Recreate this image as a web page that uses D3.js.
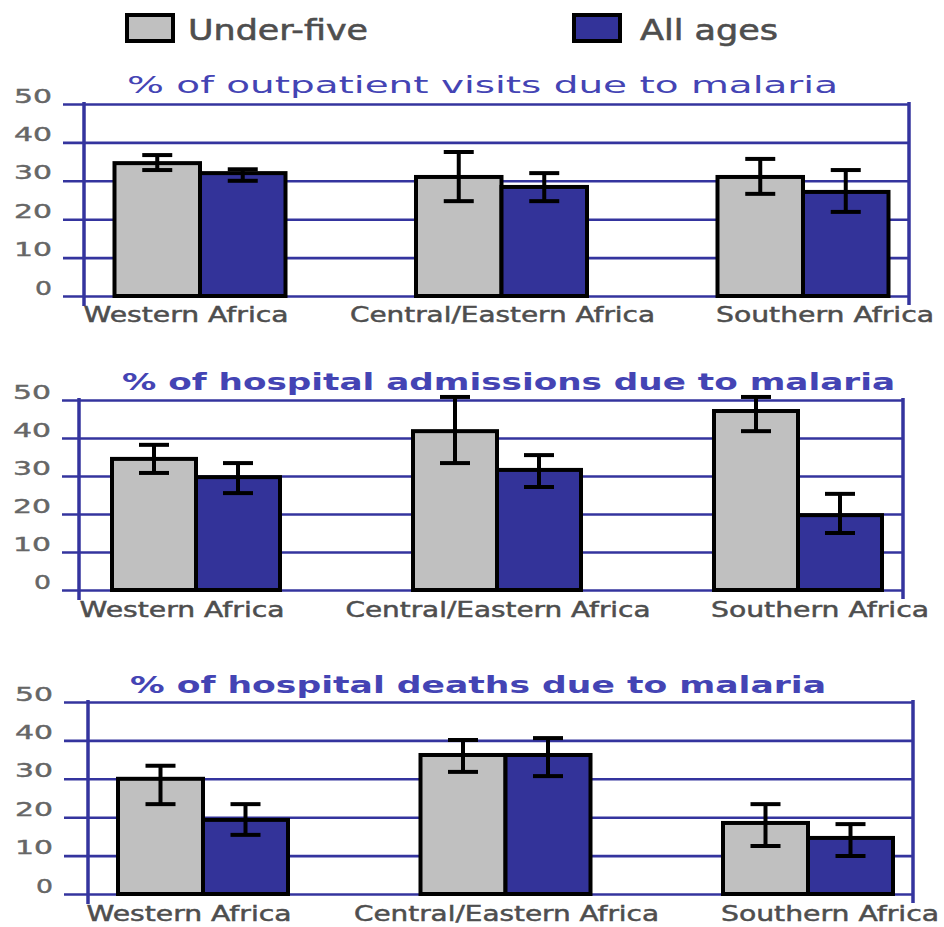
<!DOCTYPE html>
<html>
<head>
<meta charset="utf-8">
<script src="https://cdn.jsdelivr.net/npm/d3@7"></script>
<style>
  html, body { margin: 0; padding: 0; background: #fff; }
  svg { display: block; }
</style>
</head>
<body>
<svg id="chart" width="944" height="927"></svg>
<script>
// ---------------- DATA ----------------
const categories = ["Western Africa", "Central/Eastern Africa", "Southern Africa"];
const seriesNames = ["Under-five", "All ages"];
const yTicks = [0, 10, 20, 30, 40, 50];
const panelTitles = [
  "% of outpatient visits due to malaria",
  "% of hospital admissions due to malaria",
  "% of hospital deaths due to malaria"
];

// Panel 1: outpatient visits
const outpatientUnder5 = [34.6, 31.0, 31.0];
const outpatientUnder5Low = [32.8, 24.7, 26.6];
const outpatientUnder5High = [36.7, 37.5, 35.7];
const outpatientAll = [32.0, 28.4, 27.1];
const outpatientAllLow = [30.0, 24.7, 21.9];
const outpatientAllHigh = [33.0, 32.0, 32.8];

// Panel 2: hospital admissions
const admissionsUnder5 = [34.5, 41.8, 47.1];
const admissionsUnder5Low = [30.8, 33.4, 41.8];
const admissionsUnder5High = [38.2, 50.8, 50.8];
const admissionsAll = [29.7, 31.6, 19.7];
const admissionsAllLow = [25.5, 27.1, 15.0];
const admissionsAllHigh = [33.4, 35.5, 25.3];

// Panel 3: hospital deaths
const deathsUnder5 = [30.0, 36.2, 18.5];
const deathsUnder5Low = [23.4, 31.8, 12.5];
const deathsUnder5High = [33.4, 40.1, 23.4];
const deathsAll = [19.3, 36.2, 14.6];
const deathsAllLow = [15.4, 30.7, 9.9];
const deathsAllHigh = [23.4, 40.6, 18.2];

// ---------------- LAYOUT ----------------
const colors = { "Under-five": "#c0c0c0", "All ages": "#333399" };
const gridColor = "#34349e";
const titleColor = "#4444b4";
const textGray = "#4e4e4e";
const FONT = "'DejaVu Sans', Verdana, sans-serif";

const panels = [
  { title: panelTitles[0], weight: "normal",
    under: [outpatientUnder5, outpatientUnder5Low, outpatientUnder5High],
    all: [outpatientAll, outpatientAllLow, outpatientAllHigh],
    yTop: 104, yBot: 296, axisX: 84, rightX: 909, gridLeft: 63,
    cx0: 200, cx1: 803, groupW: 171,
    titleX0: 127, titleX1: 838, titleY: 93, labelY: 322 },
  { title: panelTitles[1], weight: "bold",
    under: [admissionsUnder5, admissionsUnder5Low, admissionsUnder5High],
    all: [admissionsAll, admissionsAllLow, admissionsAllHigh],
    yTop: 400, yBot: 590, axisX: 79, rightX: 903, gridLeft: 62,
    cx0: 196, cx1: 798, groupW: 168,
    titleX0: 122, titleX1: 895, titleY: 390, labelY: 617 },
  { title: panelTitles[2], weight: "bold",
    under: [deathsUnder5, deathsUnder5Low, deathsUnder5High],
    all: [deathsAll, deathsAllLow, deathsAllHigh],
    yTop: 702, yBot: 894, axisX: 88, rightX: 913, gridLeft: 64,
    cx0: 203, cx1: 808, groupW: 170,
    titleX0: 130, titleX1: 826, titleY: 693, labelY: 921 }
];
const labelShift = [-14, 1, 22];
const labelLen = [205, 305, 218];

const svg = d3.select("#chart");

// ---------------- LEGEND ----------------
const legendItems = [
  { name: seriesNames[0], x: 127, tx: 188, tlen: 180 },
  { name: seriesNames[1], x: 574, tx: 640, tlen: 138 }
];
const lg = svg.append("g");
legendItems.forEach(d => {
  lg.append("rect").attr("x", d.x).attr("y", 15).attr("width", 46).attr("height", 26)
    .attr("fill", colors[d.name]).attr("stroke", "#000").attr("stroke-width", 4);
  lg.append("text").attr("x", d.tx).attr("y", 40)
    .attr("font-family", FONT).attr("font-size", 29).attr("fill", textGray)
    .attr("stroke", textGray).attr("stroke-width", 0.6)
    .attr("textLength", d.tlen).attr("lengthAdjust", "spacingAndGlyphs")
    .text(d.name);
});

// ---------------- PANELS ----------------
panels.forEach(p => {
  const g = svg.append("g");
  const y = d3.scaleLinear().domain([0, 50]).range([p.yBot, p.yTop]);
  const x = d3.scalePoint().domain(categories).range([p.cx0, p.cx1]);
  const xs = d3.scaleBand().domain(seriesNames).range([-p.groupW / 2, p.groupW / 2]).padding(0);

  // gridlines + tick labels via axis
  const axis = d3.axisLeft(y).tickValues(yTicks)
    .tickSize(-(p.rightX - p.gridLeft)).tickPadding(11);
  const ag = g.append("g").attr("transform", `translate(${p.gridLeft},0)`).call(axis);
  ag.select(".domain").remove();
  ag.selectAll(".tick line").attr("stroke", gridColor).attr("stroke-width", 2.6);
  ag.selectAll(".tick text")
    .attr("font-family", FONT).attr("font-size", 19).attr("fill", "#666")
    .attr("stroke", "#666").attr("stroke-width", 0.4)
    .attr("dy", "-0.1em")
    .attr("textLength", d => String(d).length === 1 ? 17 : 38)
    .attr("lengthAdjust", "spacingAndGlyphs");

  // left axis line and right border
  g.append("line").attr("x1", p.axisX).attr("x2", p.axisX)
    .attr("y1", y(50) - 2).attr("y2", y(0) + 10)
    .attr("stroke", gridColor).attr("stroke-width", 3.5);
  g.append("line").attr("x1", p.rightX).attr("x2", p.rightX)
    .attr("y1", y(50) - 2).attr("y2", y(0) + 9)
    .attr("stroke", gridColor).attr("stroke-width", 3.5);

  // bars
  const rows = [];
  categories.forEach((c, i) => {
    rows.push({ cat: c, s: seriesNames[0], v: p.under[0][i], lo: p.under[1][i], hi: p.under[2][i] });
    rows.push({ cat: c, s: seriesNames[1], v: p.all[0][i], lo: p.all[1][i], hi: p.all[2][i] });
  });
  g.selectAll("rect.bar").data(rows).join("rect").attr("class", "bar")
    .attr("x", d => x(d.cat) + xs(d.s))
    .attr("width", xs.bandwidth())
    .attr("y", d => y(d.v))
    .attr("height", d => y(0) - y(d.v))
    .attr("fill", d => colors[d.s])
    .attr("stroke", "#000").attr("stroke-width", 4);

  // error bars
  const capW = 30;
  const eg = g.selectAll("g.err").data(rows).join("g").attr("class", "err")
    .attr("transform", d => `translate(${x(d.cat) + xs(d.s) + xs.bandwidth() / 2},0)`);
  eg.append("line").attr("x1", 0).attr("x2", 0)
    .attr("y1", d => y(d.lo)).attr("y2", d => y(d.hi))
    .attr("stroke", "#000").attr("stroke-width", 4);
  eg.append("line").attr("x1", -capW / 2).attr("x2", capW / 2)
    .attr("y1", d => y(d.lo)).attr("y2", d => y(d.lo))
    .attr("stroke", "#000").attr("stroke-width", 4);
  eg.append("line").attr("x1", -capW / 2).attr("x2", capW / 2)
    .attr("y1", d => y(d.hi)).attr("y2", d => y(d.hi))
    .attr("stroke", "#000").attr("stroke-width", 4);

  // category labels
  g.selectAll("text.cat").data(categories).join("text").attr("class", "cat")
    .attr("x", (d, i) => x(d) + labelShift[i])
    .attr("y", p.labelY)
    .attr("text-anchor", "middle")
    .attr("font-family", FONT).attr("font-size", 22).attr("fill", textGray)
    .attr("stroke", textGray).attr("stroke-width", 0.5)
    .attr("textLength", (d, i) => labelLen[i]).attr("lengthAdjust", "spacingAndGlyphs")
    .text(d => d);

  // title
  g.append("text").attr("x", p.titleX0).attr("y", p.titleY)
    .attr("font-family", FONT).attr("font-size", 23).attr("font-weight", p.weight)
    .attr("fill", titleColor)
    .attr("textLength", p.titleX1 - p.titleX0).attr("lengthAdjust", "spacingAndGlyphs")
    .text(p.title);
});
</script>
</body>
</html>
